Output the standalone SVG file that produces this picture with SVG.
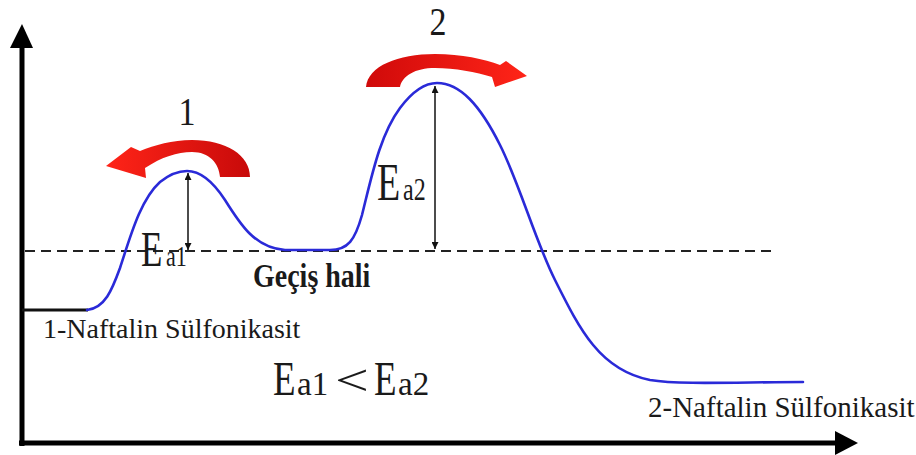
<svg xmlns="http://www.w3.org/2000/svg" width="916" height="455" viewBox="0 0 916 455">
<style>
.ser{font-family:"Liberation Serif","Times New Roman",serif;fill:#1a1a1a}
.ax{stroke:#000;stroke-width:5;fill:none}
.curve{stroke:#2a2ad8;stroke-width:2.6;fill:none;stroke-linecap:round}
.dash{stroke:#222;stroke-width:2;stroke-dasharray:10 6;fill:none}
.ea{stroke:#111;stroke-width:1.5;fill:none}
</style>
<defs>
<marker id="ah" viewBox="0 0 10 10" refX="10" refY="5" markerWidth="7" markerHeight="7" orient="auto-start-reverse" markerUnits="userSpaceOnUse">
<path d="M0,0 L10,5 L0,10 Z" fill="#111"/>
</marker>
<linearGradient id="g1" x1="1" y1="0" x2="0" y2="0">
<stop offset="0" stop-color="#c80a0a"/>
<stop offset="1" stop-color="#ff2418"/>
</linearGradient>
<linearGradient id="g2" x1="0" y1="0" x2="1" y2="0">
<stop offset="0" stop-color="#d00a0a"/>
<stop offset="1" stop-color="#ff2418"/>
</linearGradient>
</defs>
<rect width="916" height="455" fill="#fff"/>
<g id="axes">
<line class="ax" x1="22" y1="446" x2="22" y2="44"/>
<polygon points="22,24 10,48 33,48" fill="#000"/>
<line class="ax" x1="19" y1="443" x2="838" y2="443"/>
<polygon points="858,443 835,431 835,455" fill="#000"/>
</g>
<g id="reference-lines">
<line x1="22" y1="310" x2="88" y2="310" stroke="#111" stroke-width="3"/>
<line class="dash" x1="25" y1="251" x2="772" y2="251"/>
</g>
<g id="energy-curve">
<path class="curve" d="M87,310 C105,308 112,290 120,268 C130,238 140,200 160,182 C170,174 180,171 187,171 C200,171 212,180 225,200 C240,224 255,248 285,250 L330,250 C348,250 355,240 362,215 C372,175 380,135 400,108 C412,92 425,83 437,83 C460,83 480,105 500,145 C520,185 535,240 555,280 C580,330 600,370 650,380 C680,385 740,382 803,382"/>
</g>
<g id="connectors">
<line class="ea" x1="188" y1="173" x2="188" y2="250" marker-start="url(#ah)" marker-end="url(#ah)"/>
<line class="ea" x1="435" y1="86" x2="435" y2="249" marker-start="url(#ah)" marker-end="url(#ah)"/>
</g>
<g id="arrow1">
<path fill="url(#g1)" d="M250,177 C250,155 226,140 192,140 C172,140 155,145 140,151 L131,147 L106,166 L146,178 L145,168 C162,157 177,152 192,152 C209,152 219,163 220,177 Z"/>
<text class="ser" font-size="34" text-anchor="middle" transform="translate(187,125) scale(1,1.2)">1</text>
</g>
<g id="arrow2">
<path fill="url(#g2)" d="M366,87 C368,66 398,54 435,54 C462,54 484,59 500,65 L506,61 L527,76 L495,87 L492,77 C476,72 455,68 435,68 C415,68 402,76 400,87 Z"/>
<text class="ser" font-size="34" text-anchor="middle" transform="translate(438,35) scale(1,1.15)">2</text>
</g>
<g id="label-ea1">
<text class="ser" font-size="35" transform="translate(141,266) scale(1,1.45)">E</text>
<text class="ser" font-size="22" transform="translate(166,266) scale(1,1.35)">a1</text>
</g>
<g id="label-ea2">
<text class="ser" font-size="38" transform="translate(377,200) scale(1,1.4)">E</text>
<text class="ser" font-size="24" transform="translate(403,200) scale(1,1.35)">a2</text>
</g>
<g id="label-gecis">
<text class="ser" font-size="28" font-weight="bold" fill="#1c1c2e" transform="translate(253,287) scale(1,1.2)">Geçiş hali</text>
</g>
<g id="label-1naftalin">
<text class="ser" font-size="28" x="43" y="338">1-Naftalin Sülfonikasit</text>
</g>
<g id="label-2naftalin">
<text class="ser" font-size="29" x="648" y="417">2-Naftalin Sülfonikasit</text>
</g>
<g id="label-compare">
<text class="ser" font-size="37" transform="translate(273,395) scale(1,1.32)">E</text>
<text class="ser" font-size="33" transform="translate(297,395)">a1</text>
<text class="ser" font-size="40" transform="translate(335,395) scale(1.5,1.1)">&lt;</text>
<text class="ser" font-size="37" transform="translate(374,395) scale(1,1.32)">E</text>
<text class="ser" font-size="33" transform="translate(398,395)">a2</text>
</g>
</svg>
